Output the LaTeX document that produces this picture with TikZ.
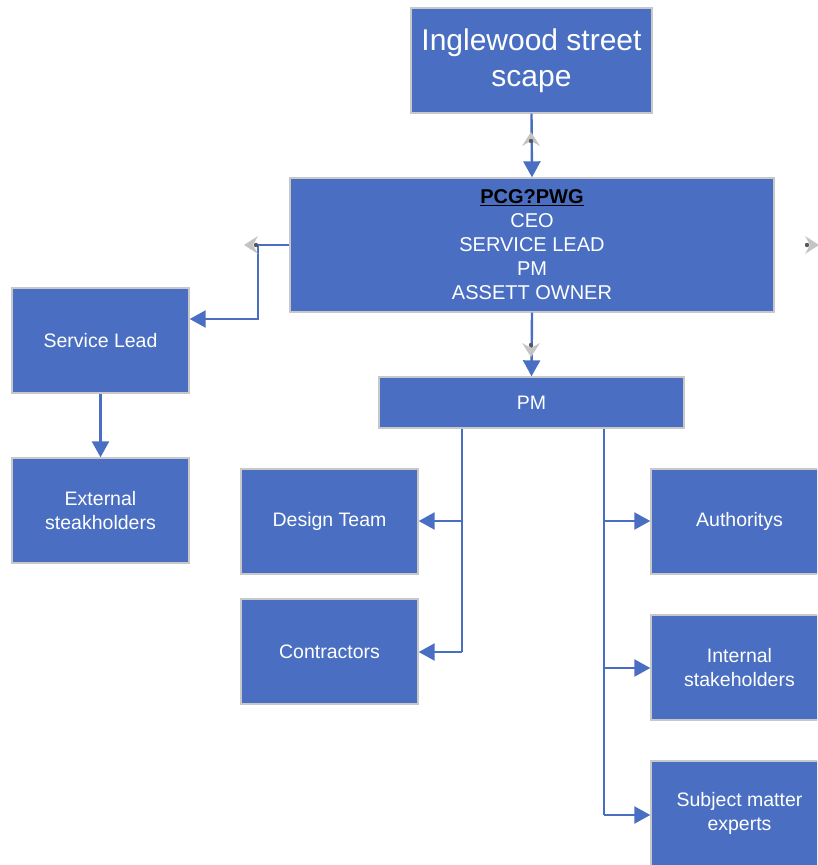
\documentclass[tikz,border=0pt]{standalone}
\usepackage{fontspec}
\setmainfont{Liberation Sans}
\usetikzlibrary{arrows.meta}
\definecolor{boxblue}{HTML}{4A6FC2}
\definecolor{boxedge}{HTML}{C8C8C8}
\definecolor{linkblue}{HTML}{4A6FC2}
\definecolor{handle}{HTML}{C4C4C4}
\tikzset{
  box/.style={draw=boxedge, line width=1.4pt, fill=boxblue, text=white, align=center, inner sep=0pt, font=\fontsize{19.5}{24}\selectfont},
  link/.style={draw=linkblue, line width=2.4pt, -{Triangle[width=17pt,length=16pt]}},
  plain/.style={draw=linkblue, line width=2.4pt},
  hdl/.style={fill=handle, draw=none},
  hdot/.style={fill=gray!70!black, draw=none}
}
\begin{document}
\begin{tikzpicture}[x=1pt,y=-1pt]
\useasboundingbox (0,0) rectangle (817,865);
\begin{scope}
\clip (0,0) rectangle (817,865);
% boxes
\node[box, minimum width=241pt, minimum height=105pt, font=\fontsize{30}{36}\selectfont] (top) at (531.5,60.5) {Inglewood street\\scape};
\node[box, minimum width=484pt, minimum height=134pt, font=\fontsize{20}{24}\selectfont] (pcg) at (532,245) {\textcolor{black}{\underline{\textbf{PCG?PWG}}}\\CEO\\SERVICE LEAD\\PM\\ASSETT OWNER};
\node[box, minimum width=177pt, minimum height=105pt] (sl) at (100.5,340.5) {Service Lead};
\node[box, minimum width=177pt, minimum height=105pt] (ext) at (100.5,510.5) {External\\steakholders};
\node[box, minimum width=305pt, minimum height=51pt] (pm) at (531.5,402.5) {PM};
\node[box, minimum width=177pt, minimum height=105pt] (dt) at (329.5,521.5) {Design Team};
\node[box, minimum width=177pt, minimum height=105pt] (con) at (329.5,651.5) {Contractors};
\node[box, minimum width=177pt, minimum height=105pt] (auth) at (739.5,521.5) {Authoritys};
\node[box, minimum width=177pt, minimum height=105pt] (int) at (739.5,667.5) {Internal\\stakeholders};
\node[box, minimum width=177pt, minimum height=105pt] (sme) at (739.5,813.5) {Subject matter\\experts};
\end{scope}
% coordinates for bends
\coordinate (pcgL) at (pcg.west |- 0,245);
\coordinate (b1) at (258,245);
\coordinate (b2) at (258,319);
\coordinate (slR) at (sl.east |- 0,319);
\coordinate (pmA) at (462,0 |- pm.south);
\coordinate (pmB) at (604,0 |- pm.south);
\coordinate (jA1) at (462,521);
\coordinate (jA2) at (462,652);
\coordinate (jB1) at (604,521);
\coordinate (jB2) at (604,668);
\coordinate (jB3) at (604,815);
% connectors
\draw[link] (top.south) -- (pcg.north);
\draw[link] (pcgL) -- (b1) -- (b2) -- (slR);
\draw[link] (sl.south) -- (ext.north);
\draw[link] (pcg.south) -- (pm.north);
\draw[plain] (pmA) -- (jA2);
\draw[link] (jA1) -- (dt.east |- jA1);
\draw[link] (jA2) -- (con.east |- jA2);
\draw[plain] (pmB) -- (jB3);
\draw[link] (jB1) -- (auth.west |- jB1);
\draw[link] (jB2) -- (int.west |- jB2);
\draw[link] (jB3) -- (sme.west |- jB3);
% selection handles
\fill[hdl] (531,132) -- (540,146) -- (531,141) -- (522,146) -- cycle;
\fill[hdot] (531,141) circle (2.2pt);
\fill[hdl] (244,245) -- (258,236) -- (253,245) -- (258,254) -- cycle;
\fill[hdot] (256,245) circle (2.2pt);
\fill[hdl] (819,245) -- (805,236) -- (810,245) -- (805,254) -- cycle;
\fill[hdot] (807,245) circle (2.2pt);
\fill[hdl] (531,357) -- (540,343) -- (531,348) -- (522,343) -- cycle;
\fill[hdot] (531,345) circle (2.2pt);
\end{tikzpicture}
\end{document}
